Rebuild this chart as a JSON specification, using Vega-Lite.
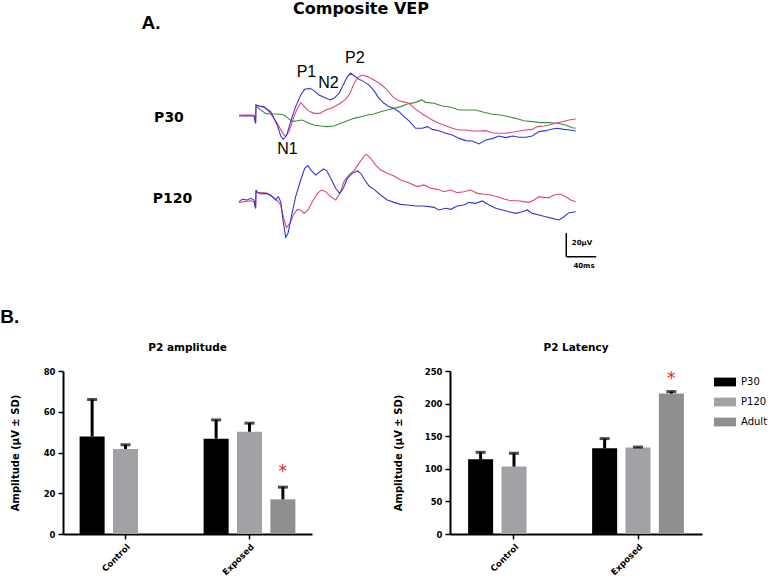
{
  "$schema": "https://vega.github.io/schema/vega-lite/v6.json",
  "padding": 0,
  "background": "white",
  "config": {
    "view": {"stroke": null},
    "axis": {"domainColor": "#000", "domainWidth": 2, "tickColor": "#000", "tickWidth": 1.5, "tickSize": 5, "labelFont": "DejaVu Sans", "labelFontSize": 8.5, "labelFontWeight": "bold", "labelColor": "#000", "labelPadding": 3, "titleFont": "DejaVu Sans", "titleFontSize": 10, "titleFontWeight": "bold", "titleColor": "#000", "grid": false},
    "title": {"font": "DejaVu Sans", "fontSize": 10.5, "fontWeight": "bold", "color": "#000", "offset": 14}
  },
  "datasets": {
    "p30blue": [{"t":-22.7,"v":-0.4},{"t":-12,"v":-0.2},{"t":-2.7,"v":-0.4},{"t":-0.5,"v":-6.6},{"t":0,"v":8.9},{"t":4.0,"v":8.0},{"t":10.7,"v":6.9},{"t":19.6,"v":3.2},{"t":28.4,"v":-8.0},{"t":32.9,"v":-17.3},{"t":36.4,"v":-20.1},{"t":40.9,"v":-16.5},{"t":46.2,"v":-5.2},{"t":52.9,"v":7.5},{"t":59.6,"v":17.3},{"t":64.9,"v":22.1},{"t":72.0,"v":22.9},{"t":77.3,"v":21.0},{"t":84.0,"v":17.3},{"t":90.7,"v":15.3},{"t":98.7,"v":13.1},{"t":104.0,"v":14.5},{"t":110.7,"v":18.7},{"t":117.3,"v":27.1},{"t":121.8,"v":32.8},{"t":126.2,"v":35.6},{"t":131.5,"v":33.3},{"t":137.3,"v":30.5},{"t":144.0,"v":28.6},{"t":150.7,"v":25.7},{"t":157.3,"v":21.0},{"t":164.0,"v":14.5},{"t":170.7,"v":10.3},{"t":177.3,"v":7.5},{"t":184.0,"v":6.0},{"t":190.7,"v":3.2},{"t":197.3,"v":-1.0},{"t":204.0,"v":-4.5},{"t":212.9,"v":-10.8},{"t":221.8,"v":-10.8},{"t":228.4,"v":-9.4},{"t":235.1,"v":-11.7},{"t":244.0,"v":-12.8},{"t":252.9,"v":-15.0},{"t":261.8,"v":-16.5},{"t":270.7,"v":-19.3},{"t":279.6,"v":-21.2},{"t":288.4,"v":-21.5},{"t":297.3,"v":-24.0},{"t":306.2,"v":-20.7},{"t":315.1,"v":-19.5},{"t":324.0,"v":-17.3},{"t":332.9,"v":-18.7},{"t":341.8,"v":-17.3},{"t":350.7,"v":-18.4},{"t":359.6,"v":-18.4},{"t":368.4,"v":-17.3},{"t":377.3,"v":-13.6},{"t":386.2,"v":-12.8},{"t":395.1,"v":-11.4},{"t":401.8,"v":-10.8},{"t":410.7,"v":-11.7},{"t":419.6,"v":-12.2},{"t":426.2,"v":-13.1}],
    "p30pink": [{"t":-22.7,"v":0.4},{"t":-2.7,"v":0.4},{"t":-0.5,"v":-6.6},{"t":0,"v":8.9},{"t":4.0,"v":8.0},{"t":10.7,"v":7.5},{"t":17.3,"v":3.2},{"t":24.0,"v":-2.4},{"t":30.7,"v":-9.4},{"t":36.4,"v":-15.6},{"t":39.6,"v":-17.9},{"t":44.0,"v":-13.6},{"t":49.8,"v":-2.4},{"t":55.1,"v":6.0},{"t":59.6,"v":10.8},{"t":64.0,"v":8.0},{"t":69.3,"v":4.1},{"t":77.3,"v":1.8},{"t":85.3,"v":1.8},{"t":92.9,"v":4.6},{"t":101.8,"v":6.6},{"t":110.7,"v":9.7},{"t":119.6,"v":13.6},{"t":125.3,"v":18.7},{"t":130.7,"v":27.1},{"t":136.0,"v":32.2},{"t":141.8,"v":34.2},{"t":148.4,"v":32.8},{"t":157.3,"v":30.0},{"t":166.2,"v":26.6},{"t":175.1,"v":21.5},{"t":183.1,"v":15.3},{"t":190.7,"v":12.5},{"t":199.6,"v":11.1},{"t":204.0,"v":10.3},{"t":212.9,"v":5.2},{"t":224.0,"v":0.4},{"t":235.1,"v":-3.8},{"t":244.0,"v":-6.6},{"t":252.9,"v":-8.6},{"t":261.8,"v":-10.8},{"t":270.7,"v":-12.2},{"t":279.6,"v":-12.2},{"t":288.4,"v":-13.1},{"t":297.3,"v":-13.1},{"t":306.2,"v":-12.8},{"t":315.1,"v":-14.5},{"t":324.0,"v":-15.0},{"t":332.9,"v":-15.0},{"t":341.8,"v":-14.2},{"t":350.7,"v":-13.1},{"t":359.6,"v":-12.2},{"t":368.4,"v":-11.7},{"t":375.1,"v":-9.4},{"t":384.0,"v":-8.9},{"t":390.7,"v":-8.0},{"t":399.6,"v":-6.6},{"t":408.4,"v":-5.2},{"t":417.3,"v":-3.8},{"t":426.2,"v":-2.9}],
    "p30green": [{"t":0,"v":8.0},{"t":6.2,"v":4.6},{"t":12.9,"v":1.8},{"t":19.6,"v":1.3},{"t":28.4,"v":1.3},{"t":37.3,"v":0.4},{"t":43.1,"v":-2.4},{"t":48.4,"v":-5.2},{"t":55.1,"v":-4.4},{"t":61.8,"v":-3.8},{"t":68.4,"v":-6.0},{"t":77.3,"v":-8.0},{"t":86.2,"v":-8.9},{"t":95.1,"v":-9.4},{"t":104.0,"v":-8.9},{"t":112.9,"v":-6.6},{"t":121.8,"v":-4.4},{"t":130.7,"v":-2.4},{"t":139.6,"v":-1.0},{"t":148.4,"v":0.4},{"t":157.3,"v":1.3},{"t":166.2,"v":3.2},{"t":175.1,"v":4.6},{"t":184.0,"v":6.0},{"t":192.9,"v":7.5},{"t":201.8,"v":9.7},{"t":212.9,"v":11.1},{"t":220.9,"v":13.1},{"t":226.2,"v":11.1},{"t":237.3,"v":10.3},{"t":248.4,"v":8.0},{"t":259.6,"v":6.9},{"t":270.7,"v":4.6},{"t":281.8,"v":4.6},{"t":292.9,"v":4.6},{"t":304.0,"v":2.7},{"t":315.1,"v":1.0},{"t":326.2,"v":0.4},{"t":337.3,"v":-1.0},{"t":346.2,"v":-2.4},{"t":357.3,"v":-4.4},{"t":368.4,"v":-5.2},{"t":379.6,"v":-6.0},{"t":390.7,"v":-6.0},{"t":401.8,"v":-6.6},{"t":412.9,"v":-8.0},{"t":421.8,"v":-10.3},{"t":426.2,"v":-10.8}],
    "p120blue": [{"t":-22.7,"v":-1.4},{"t":-18.2,"v":0.6},{"t":-11.6,"v":0.0},{"t":-7.1,"v":1.4},{"t":-2.7,"v":0.0},{"t":-0.5,"v":-7.0},{"t":0,"v":8.4},{"t":0.9,"v":7.0},{"t":6.2,"v":5.1},{"t":12.9,"v":5.6},{"t":19.6,"v":4.2},{"t":26.2,"v":0.0},{"t":29.8,"v":2.8},{"t":32.9,"v":-1.4},{"t":36.0,"v":-16.9},{"t":39.6,"v":-31.5},{"t":42.7,"v":-28.1},{"t":47.1,"v":-14.1},{"t":52.9,"v":2.8},{"t":59.6,"v":16.9},{"t":64.9,"v":26.7},{"t":69.3,"v":29.0},{"t":73.8,"v":24.8},{"t":79.6,"v":21.1},{"t":85.3,"v":23.9},{"t":89.8,"v":26.2},{"t":94.2,"v":24.8},{"t":99.6,"v":18.3},{"t":106.2,"v":9.9},{"t":111.6,"v":5.6},{"t":116.4,"v":9.9},{"t":121.8,"v":18.3},{"t":128.4,"v":22.5},{"t":135.1,"v":24.5},{"t":139.6,"v":22.5},{"t":144.9,"v":16.9},{"t":150.7,"v":11.8},{"t":157.3,"v":9.0},{"t":166.2,"v":4.2},{"t":175.1,"v":0.0},{"t":184.0,"v":-2.0},{"t":192.9,"v":-3.7},{"t":201.8,"v":-4.2},{"t":212.9,"v":-5.1},{"t":221.8,"v":-5.1},{"t":230.7,"v":-5.6},{"t":237.3,"v":-6.2},{"t":244.0,"v":-8.4},{"t":252.9,"v":-7.0},{"t":259.6,"v":-7.9},{"t":268.4,"v":-5.1},{"t":277.3,"v":-4.2},{"t":284.0,"v":-2.0},{"t":292.9,"v":-2.8},{"t":301.8,"v":-0.8},{"t":310.7,"v":-4.2},{"t":319.6,"v":-7.0},{"t":328.4,"v":-8.4},{"t":337.3,"v":-9.9},{"t":346.2,"v":-11.3},{"t":355.1,"v":-9.9},{"t":361.8,"v":-8.4},{"t":368.4,"v":-11.3},{"t":377.3,"v":-12.7},{"t":386.2,"v":-14.1},{"t":395.1,"v":-15.5},{"t":404.0,"v":-16.9},{"t":410.7,"v":-14.1},{"t":417.3,"v":-10.7},{"t":426.2,"v":-9.9}],
    "p120pink": [{"t":-22.7,"v":-2.3},{"t":-16.0,"v":-1.4},{"t":-7.1,"v":-0.6},{"t":-2.7,"v":-1.4},{"t":-0.5,"v":-7.0},{"t":0,"v":8.4},{"t":1.8,"v":6.2},{"t":8.4,"v":6.2},{"t":15.1,"v":5.6},{"t":21.8,"v":2.8},{"t":28.4,"v":-0.6},{"t":32.9,"v":-4.2},{"t":36.4,"v":-14.1},{"t":40.4,"v":-23.1},{"t":45.3,"v":-19.7},{"t":49.8,"v":-12.7},{"t":55.1,"v":-7.9},{"t":59.6,"v":-8.4},{"t":64.0,"v":-11.3},{"t":69.3,"v":-8.4},{"t":75.1,"v":-1.4},{"t":81.8,"v":5.6},{"t":87.1,"v":8.4},{"t":92.9,"v":7.0},{"t":99.6,"v":2.8},{"t":106.2,"v":0.0},{"t":112.0,"v":5.6},{"t":117.3,"v":15.5},{"t":124.0,"v":21.1},{"t":130.7,"v":24.8},{"t":137.3,"v":30.9},{"t":144.0,"v":37.1},{"t":147.6,"v":38.5},{"t":152.9,"v":35.2},{"t":159.6,"v":29.5},{"t":166.2,"v":25.3},{"t":175.1,"v":22.5},{"t":184.0,"v":20.3},{"t":192.9,"v":16.9},{"t":201.8,"v":14.9},{"t":215.1,"v":11.3},{"t":224.0,"v":12.7},{"t":232.9,"v":9.9},{"t":241.8,"v":9.0},{"t":250.7,"v":7.0},{"t":259.6,"v":8.4},{"t":268.4,"v":6.2},{"t":277.3,"v":7.0},{"t":286.2,"v":8.4},{"t":295.1,"v":5.6},{"t":304.0,"v":4.8},{"t":312.9,"v":4.2},{"t":321.8,"v":2.8},{"t":330.7,"v":0.8},{"t":339.6,"v":-0.6},{"t":348.4,"v":-0.6},{"t":357.3,"v":-1.4},{"t":364.0,"v":-2.0},{"t":370.7,"v":0.0},{"t":377.3,"v":2.8},{"t":384.0,"v":2.0},{"t":390.7,"v":2.0},{"t":397.3,"v":4.2},{"t":406.2,"v":5.1},{"t":412.9,"v":2.8},{"t":419.6,"v":0.0},{"t":426.2,"v":-1.4}],
    "amp": [
      {"group":"Control","age":"P30","mean":47.9,"upper":66.0},
      {"group":"Control","age":"P120","mean":41.7,"upper":43.8},
      {"group":"Exposed","age":"P30","mean":46.8,"upper":56.0},
      {"group":"Exposed","age":"P120","mean":50.2,"upper":54.4},
      {"group":"Exposed","age":"Adult","mean":17.0,"upper":23.0}
    ],
    "lat": [
      {"group":"Control","age":"P30","mean":114.6,"upper":125.3},
      {"group":"Control","age":"P120","mean":103.4,"upper":123.8},
      {"group":"Exposed","age":"P30","mean":131.4,"upper":146.3},
      {"group":"Exposed","age":"P120","mean":132.5,"upper":133.3},
      {"group":"Exposed","age":"Adult","mean":215.3,"upper":218.4}
    ]
  },
  "vconcat": [
    {
      "width": 709,
      "height": 300,
      "layer": [
        {
          "encoding": {
            "x": {"field": "t", "type": "quantitative", "scale": {"domain": [-257.33, 688], "nice": false, "zero": false}, "axis": null},
            "y": {"field": "v", "type": "quantitative", "scale": {"domain": [-155.70, 97.47], "nice": false, "zero": false}, "axis": null}
          },
          "layer": [
            {"data": {"name": "p30green"}, "mark": {"type": "line", "color": "#3d8f3d", "strokeWidth": 1.1}},
            {"data": {"name": "p30pink"}, "mark": {"type": "line", "color": "#e2457f", "strokeWidth": 1.1}},
            {"data": {"name": "p30blue"}, "mark": {"type": "line", "color": "#3636d2", "strokeWidth": 1.1}},
            {"data": {"values": [{"t":413.7,"v":-99.2,"t2":413.7,"v2":-119.2},{"t":413.7,"v":-119.2,"t2":453.7,"v2":-119.2}]}, "mark": {"type": "rule", "color": "#000", "strokeWidth": 1.5}, "encoding": {"x2": {"field": "t2"}, "y2": {"field": "v2"}}},
            {"data": {"values": [{"label":"Composite VEP","t":140,"v":85.4}]}, "mark": {"type": "text", "font": "DejaVu Sans", "fontWeight": "bold", "fontSize": 16, "align": "center", "baseline": "alphabetic"}, "encoding": {"text": {"field": "label"}}},
            {"data": {"values": [{"label":"A.","t":-140,"v":78.1}]}, "mark": {"type": "text", "font": "Liberation Sans", "fontWeight": "bold", "fontSize": 19, "align": "center", "baseline": "middle"}, "encoding": {"text": {"field": "label"}}},
            {"data": {"values": [{"label":"P30","t":-116,"v":-2.1},{"label":"P120","t":-111.3,"v":-70.5}]}, "mark": {"type": "text", "font": "DejaVu Sans", "fontWeight": "bold", "fontSize": 14, "align": "center", "baseline": "middle"}, "encoding": {"text": {"field": "label"}}},
            {"data": {"values": [{"label":"N1","t":41.8,"v":-28.4},{"label":"P1","t":67.3,"v":36.3},{"label":"N2","t":96.7,"v":27.2},{"label":"P2","t":131.7,"v":48.9}]}, "mark": {"type": "text", "font": "Liberation Sans", "fontSize": 16, "align": "center", "baseline": "middle"}, "encoding": {"text": {"field": "label"}}},
            {"data": {"values": [{"label":"20μV","t":434.7,"v":-107.6},{"label":"40ms","t":437.3,"v":-127}]}, "mark": {"type": "text", "font": "DejaVu Sans", "fontWeight": "bold", "fontSize": 7, "align": "center", "baseline": "middle"}, "encoding": {"text": {"field": "label"}}}
          ]
        },
        {
          "encoding": {
            "x": {"field": "t", "type": "quantitative", "scale": {"domain": [-257.33, 688], "nice": false, "zero": false}, "axis": null},
            "y": {"field": "v", "type": "quantitative", "scale": {"domain": [-84.39, 168.78], "nice": false, "zero": false}, "axis": null}
          },
          "layer": [
            {"data": {"name": "p120pink"}, "mark": {"type": "line", "color": "#e2457f", "strokeWidth": 1.1}},
            {"data": {"name": "p120blue"}, "mark": {"type": "line", "color": "#3636d2", "strokeWidth": 1.1}}
          ]
        }
      ],
      "resolve": {"scale": {"y": "independent"}}
    },
    {
      "spacing": 81,
      "title": {"text": "B.", "anchor": "start", "frame": "bounds", "dx": -10, "font": "Liberation Sans", "fontSize": 19, "fontWeight": "bold", "offset": 16},
      "resolve": {"scale": {"color": "independent"}},
      "hconcat": [
        {
          "width": 249,
          "height": 163,
          "title": {"text": "P2 amplitude"},
          "encoding": {
            "x": {"field": "group", "type": "nominal", "scale": {"domain": ["Control", "Exposed"], "paddingInner": 0.26, "paddingOuter": 0.134}, "axis": {"title": null, "labelAngle": -45, "labelAlign": "right", "labelBaseline": "top"}},
            "xOffset": {"field": "age", "type": "nominal", "scale": {"domain": ["P30", "P120", "Adult"], "paddingInner": 0.25, "paddingOuter": 0}}
          },
          "layer": [
            {"data": {"name": "amp"}, "mark": {"type": "bar"}, "encoding": {
              "y": {"field": "mean", "type": "quantitative", "scale": {"domain": [0, 80], "nice": false}, "axis": {"values": [0, 20, 40, 60, 80], "title": "Amplitude (μV ± SD)", "titlePadding": 23}},
              "color": {"field": "age", "type": "nominal", "scale": {"domain": ["P30", "P120", "Adult"], "range": ["#000000", "#a2a2a6", "#8f8f8f"]}, "legend": null}}},
            {"data": {"name": "amp"}, "mark": {"type": "rule", "color": "#000", "strokeWidth": 3}, "encoding": {"y": {"field": "mean", "type": "quantitative", "scale": {"domain": [0, 80], "nice": false}, "axis": {"values": [0, 20, 40, 60, 80], "title": "Amplitude (μV ± SD)", "titlePadding": 23}}, "y2": {"field": "upper"}}},
            {"data": {"name": "amp"}, "mark": {"type": "tick", "color": "#000", "thickness": 3, "size": 10}, "encoding": {"y": {"field": "upper", "type": "quantitative", "scale": {"domain": [0, 80], "nice": false}, "axis": {"values": [0, 20, 40, 60, 80], "title": "Amplitude (μV ± SD)", "titlePadding": 23}}}},
            {"data": {"values": [{"group": "Exposed", "age": "Adult", "y": 27.9, "label": "*"}]}, "mark": {"type": "text", "color": "#e3262b", "font": "DejaVu Sans", "fontSize": 17, "align": "center", "baseline": "alphabetic"}, "encoding": {"y": {"field": "y", "type": "quantitative", "scale": {"domain": [0, 80], "nice": false}, "axis": {"values": [0, 20, 40, 60, 80], "title": "Amplitude (μV ± SD)", "titlePadding": 23}}, "text": {"field": "label"}}}
          ]
        },
        {
          "width": 252,
          "height": 163,
          "title": {"text": "P2 Latency"},
          "encoding": {
            "x": {"field": "group", "type": "nominal", "scale": {"domain": ["Control", "Exposed"], "paddingInner": 0.26, "paddingOuter": 0.146}, "axis": {"title": null, "labelAngle": -45, "labelAlign": "right", "labelBaseline": "top"}},
            "xOffset": {"field": "age", "type": "nominal", "scale": {"domain": ["P30", "P120", "Adult"], "paddingInner": 0.25, "paddingOuter": 0}}
          },
          "layer": [
            {"data": {"name": "lat"}, "mark": {"type": "bar"}, "encoding": {
              "y": {"field": "mean", "type": "quantitative", "scale": {"domain": [0, 250], "nice": false}, "axis": {"values": [0, 50, 100, 150, 200, 250], "title": "Amplitude (μV ± SD)", "titlePadding": 21}},
              "color": {"field": "age", "type": "nominal", "scale": {"domain": ["P30", "P120", "Adult"], "range": ["#000000", "#a2a2a6", "#8f8f8f"]}, "legend": {"title": null, "orient": "right", "offset": 12, "padding": 0, "symbolType": "M-1,-0.4L1,-0.4L1,0.4L-1,0.4Z", "symbolSize": 484, "symbolStrokeWidth": 0, "labelFont": "DejaVu Sans", "labelFontSize": 10, "labelColor": "#000", "labelOffset": 5, "rowPadding": 4}}}},
            {"data": {"name": "lat"}, "mark": {"type": "rule", "color": "#000", "strokeWidth": 3}, "encoding": {"y": {"field": "mean", "type": "quantitative", "scale": {"domain": [0, 250], "nice": false}, "axis": {"values": [0, 50, 100, 150, 200, 250], "title": "Amplitude (μV ± SD)", "titlePadding": 21}}, "y2": {"field": "upper"}}},
            {"data": {"name": "lat"}, "mark": {"type": "tick", "color": "#000", "thickness": 3, "size": 10}, "encoding": {"y": {"field": "upper", "type": "quantitative", "scale": {"domain": [0, 250], "nice": false}, "axis": {"values": [0, 50, 100, 150, 200, 250], "title": "Amplitude (μV ± SD)", "titlePadding": 21}}}},
            {"data": {"values": [{"group": "Exposed", "age": "Adult", "y": 230, "label": "*"}]}, "mark": {"type": "text", "color": "#e3262b", "font": "DejaVu Sans", "fontSize": 17, "align": "center", "baseline": "alphabetic"}, "encoding": {"y": {"field": "y", "type": "quantitative", "scale": {"domain": [0, 250], "nice": false}, "axis": {"values": [0, 50, 100, 150, 200, 250], "title": "Amplitude (μV ± SD)", "titlePadding": 21}}, "text": {"field": "label"}}}
          ]
        }
      ]
    }
  ],
  "spacing": 7,
  "align": "none"
}
